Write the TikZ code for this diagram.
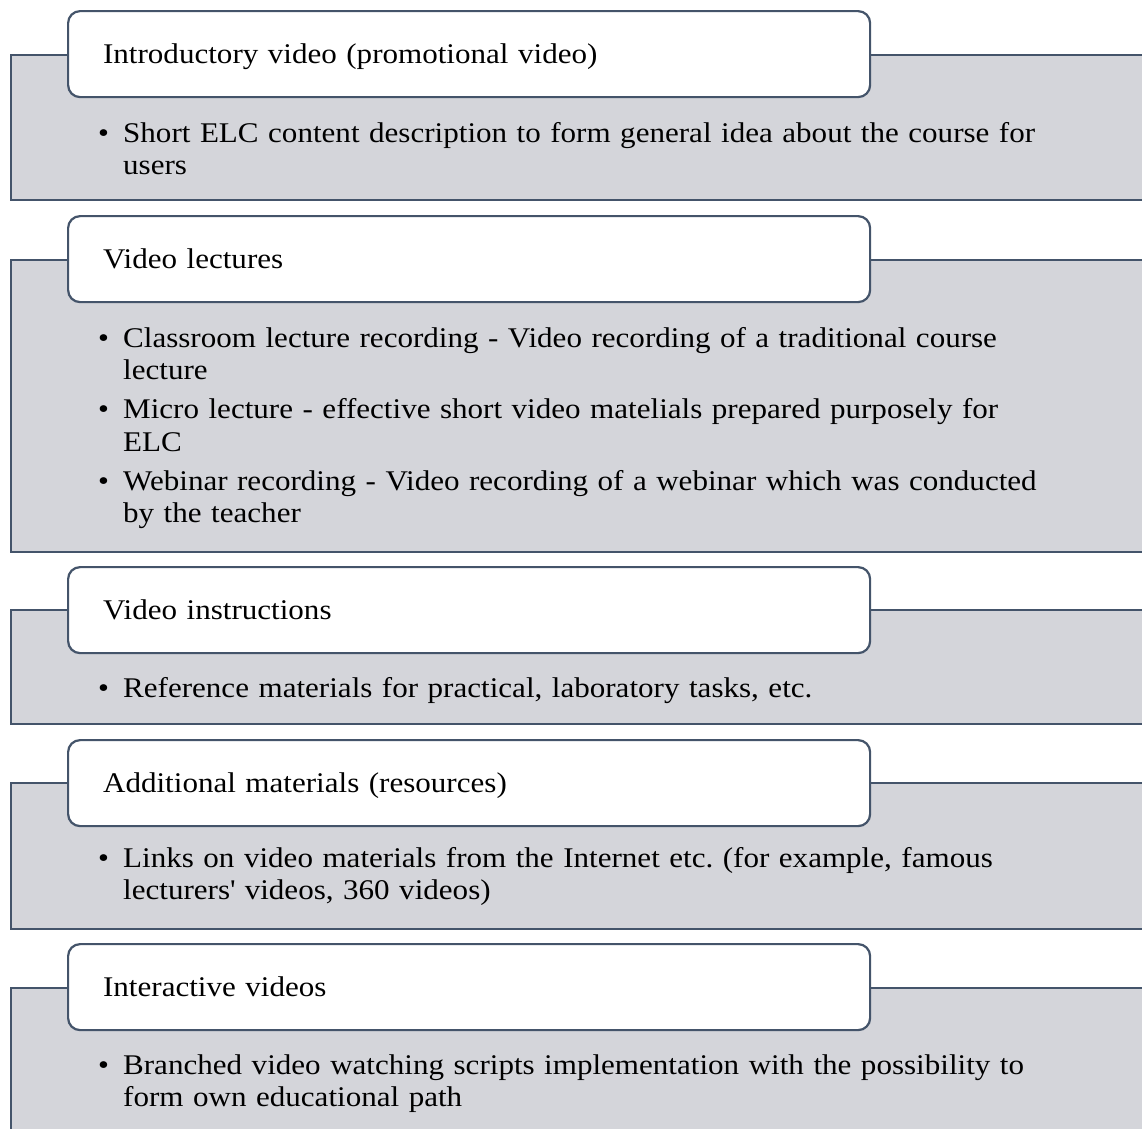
\documentclass[tikz,border=0pt]{standalone}
\usepackage{fontspec}
\setmainfont[FakeStretch=1.09]{Liberation Serif}
\usetikzlibrary{positioning}
\definecolor{edgeslate}{HTML}{44546A}
\definecolor{panelgray}{HTML}{D4D5DA}
\newcommand{\bitem}[1]{\hangindent=25pt\hangafter=1\noindent\makebox[25pt][l]{\textbullet}#1\par}
\tikzset{
  panel/.style={draw=edgeslate, fill=panelgray, line width=2.2pt, anchor=north west, minimum width=1180pt, inner sep=0pt},
  head/.style={draw=edgeslate, fill=white, line width=2.2pt, rounded corners=12pt, anchor=north west,
    minimum width=802pt, minimum height=86pt, text width=732pt, inner xsep=35pt, inner ysep=0pt,
    align=left, text height=19pt, text depth=0pt, font=\fontsize{28.5}{32.5}\selectfont},
  body/.style={anchor=base west, text width=1000pt, inner sep=0pt, align=left,
    font=\fontsize{28.5}{32.5}\selectfont\raggedright\frenchspacing\setlength{\parskip}{6.5pt}}
}
\begin{document}
\begin{tikzpicture}[x=1pt,y=-1pt]
        \useasboundingbox (0,0) rectangle (1142,1128);
        \clip (0,0) rectangle (1142,1128);
        \node[panel, minimum height=145pt] (pan1) at (10,54) {};
        \node[panel, minimum height=292pt] (pan2) at (10,259) {};
        \node[panel, minimum height=114pt] (pan3) at (10,609) {};
        \node[panel, minimum height=146pt] (pan4) at (10,782) {};
        \node[panel, minimum height=200pt] (pan5) at (10,987) {};
        \node[head] (intro) at (67,10) {Introductory video (promotional video)};
        \node[head] (lect) at (67,215) {Video lectures};
        \node[head] (instr) at (67,566) {Video instructions};
        \node[head] (addit) at (67,739) {Additional materials (resources)};
        \node[head] (inter) at (67,943) {Interactive videos};
        \node[body] (intro-b) at (98,142) {\bitem{Short ELC content description to form general idea about the course for\newline users}};
        \node[body] (lect-b) at (98,347) {\bitem{Classroom lecture recording - Video recording of a traditional course\newline lecture}
          \bitem{Micro lecture - effective short video matelials prepared purposely for\newline ELC}
          \bitem{Webinar recording - Video recording of a webinar which was conducted\newline by the teacher}};
        \node[body] (instr-b) at (98,697) {\bitem{Reference materials for practical, laboratory tasks, etc.}};
        \node[body] (addit-b) at (98,867) {\bitem{Links on video materials from the Internet etc. (for example, famous\newline lecturers\textquotesingle\ videos, 360 videos)}};
        \node[body] (inter-b) at (98,1074) {\bitem{Branched video watching scripts implementation with the possibility to\newline form own educational path}};
    \end{tikzpicture}
\end{document}
